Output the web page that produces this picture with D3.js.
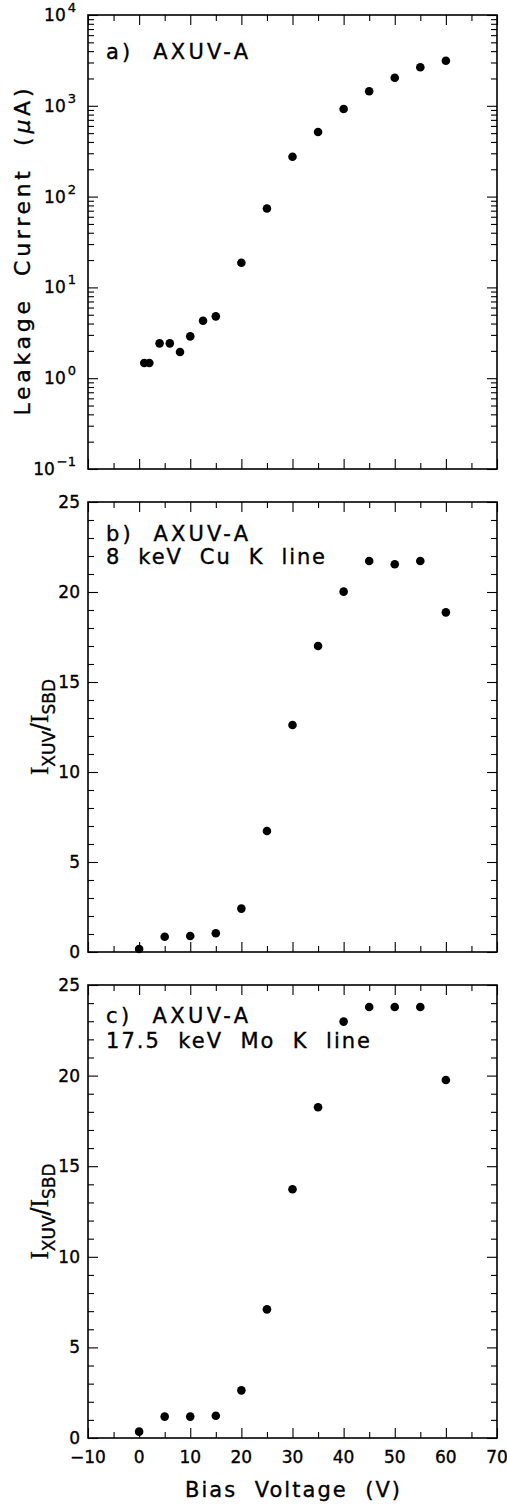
<!DOCTYPE html>
<html><head><meta charset="utf-8">
<script src="https://cdn.jsdelivr.net/npm/d3@7"></script>
<style>
body{margin:0;background:#fff;}
svg{display:block;}
text{font-family:"DejaVu Sans",sans-serif;fill:#000;stroke:#000;stroke-width:0.35;}
.domain{display:none;}
</style></head>
<body><svg id="c" width="507" height="1506"></svg>
<script>
// ---- data ----
const voltA = [1,2,4,6,8,10,12.5,15,20,25,30,35,40,45,50,55,60];
const leakA = [1.47,1.47,2.42,2.42,1.94,2.89,4.3,4.8,18.7,74,275,514,922,1445,2040,2655,3140];
const voltB = [0,5,10,15,20,25,30,35,40,45,50,55,60];
const ratioB = [0.17,0.85,0.89,1.04,2.41,6.72,12.61,17.0,20.02,21.72,21.54,21.72,18.87];
const voltC = [0,5,10,15,20,25,30,35,40,45,50,55,60];
const ratioC = [0.35,1.18,1.18,1.23,2.63,7.1,13.73,18.25,22.98,23.79,23.79,23.79,19.76];
const xMajor = [-10,0,10,20,30,40,50,60,70];
const xMinor = [-5,5,15,25,35,45,55,65];
const xTickLabels = ["\u221210","0","10","20","30","40","50","60","70"];
const logDecades = [-1,0,1,2,3,4];
const linMajor = [0,5,10,15,20,25];
const linLabels = ["0","5","10","15","20","25"];
const panelLabels = [["a)  AXUV-A"],["b)  AXUV-A","8  keV  Cu  K  line"],["c)  AXUV-A","17.5  keV  Mo  K  line"]];

const svg = d3.select("#c");
const L = 88, R = 497;
const x = d3.scaleLinear().domain([-10,70]).range([L,R]);

const panels = [
  {top:15, bot:469, log:true, xs:voltA, ys:leakA},
  {top:502, bot:952, log:false, xs:voltB, ys:ratioB},
  {top:985, bot:1438, log:false, xs:voltC, ys:ratioC}
];
const labelBase = [[59],[541,564],[1023,1048]];
const labelLen = [[142],[142,219],[142,264]];

panels.forEach((p,i)=>{
  const y = p.log ? d3.scaleLog().domain([0.1,1e4]).range([p.bot,p.top])
                  : d3.scaleLinear().domain([0,25]).range([p.bot,p.top]);
  const g = svg.append("g");
  const addAxis = (axis, tr) => {
    const a = g.append("g").attr("transform", tr).call(axis);
    a.selectAll("line").attr("stroke","#000").attr("stroke-width",1.1);
    a.selectAll("text").remove();
  };
  addAxis(d3.axisBottom(x).tickValues(xMajor).tickSize(-10).tickFormat(""), `translate(0,${p.bot})`);
  addAxis(d3.axisBottom(x).tickValues(xMinor).tickSize(-6).tickFormat(""), `translate(0,${p.bot})`);
  addAxis(d3.axisTop(x).tickValues(xMajor).tickSize(-10).tickFormat(""), `translate(0,${p.top})`);
  addAxis(d3.axisTop(x).tickValues(xMinor).tickSize(-6).tickFormat(""), `translate(0,${p.top})`);
  let yMaj, yMin;
  if (p.log) {
    yMaj = logDecades.map(d=>Math.pow(10,d));
    yMin = [];
    logDecades.slice(0,-1).forEach(d=>{for(let k=2;k<=9;k++) yMin.push(k*Math.pow(10,d));});
  } else {
    yMaj = linMajor;
    yMin = d3.range(1,25).filter(v=>v%5!==0);
  }
  addAxis(d3.axisLeft(y).tickValues(yMaj).tickSize(-10).tickFormat(""), `translate(${L},0)`);
  addAxis(d3.axisLeft(y).tickValues(yMin).tickSize(-6).tickFormat(""), `translate(${L},0)`);
  addAxis(d3.axisRight(y).tickValues(yMaj).tickSize(-10).tickFormat(""), `translate(${R},0)`);
  addAxis(d3.axisRight(y).tickValues(yMin).tickSize(-6).tickFormat(""), `translate(${R},0)`);
  g.append("rect").attr("x",L).attr("y",p.top).attr("width",R-L).attr("height",p.bot-p.top)
    .attr("fill","none").attr("stroke","#000").attr("stroke-width",1.6);
  if (p.log) {
    logDecades.forEach(d=>{
      const t = g.append("text").attr("x",76).attr("y",y(Math.pow(10,d))+6)
        .attr("text-anchor","end").attr("font-size",17);
      t.append("tspan").text("10");
      t.append("tspan").attr("dy",-9).attr("dx",2).attr("font-size",13).text(d<0?"\u2212"+(-d):String(d));
    });
  } else {
    linMajor.forEach((v,k)=>{
      g.append("text").attr("x",80).attr("y",y(v)+6).attr("text-anchor","end")
        .attr("font-size",17).text(linLabels[k]);
    });
  }
  g.selectAll("circle").data(p.xs.map((v,k)=>[v,p.ys[k]])).join("circle")
    .attr("cx",d=>x(d[0])).attr("cy",d=>y(d[1])).attr("r",4.3).attr("fill","#000");
  panelLabels[i].forEach((s,k)=>{
    g.append("text").attr("x",106).attr("y",labelBase[i][k]).attr("font-size",21)
      .attr("textLength",labelLen[i][k]).attr("lengthAdjust","spacing")
      .style("white-space","pre").text(s);
  });
  if (p.log) {
    const t = g.append("text").attr("transform",`translate(30,${(p.top+p.bot)/2+10}) rotate(-90)`)
      .attr("text-anchor","middle").attr("font-size",22)
      .attr("textLength",327).attr("lengthAdjust","spacing").style("white-space","pre");
    t.append("tspan").text("Leakage  Current  (");
    t.append("tspan").attr("font-style","italic").text("\u03bc");
    t.append("tspan").text("A)");
  } else {
    const cy = (p.top+p.bot)/2;
    const t = g.append("text").attr("transform",`translate(48,${cy}) rotate(-90)`)
      .attr("text-anchor","middle").attr("font-size",22);
    t.append("tspan").attr("font-family","Liberation Serif").attr("font-size",25).text("I");
    t.append("tspan").attr("font-size",17).attr("dy",7).text("XUV");
    t.append("tspan").attr("dy",-7).attr("font-size",24).text("/");
    t.append("tspan").attr("font-family","Liberation Serif").attr("font-size",25).text("I");
    t.append("tspan").attr("font-size",17).attr("dy",7).text("SBD");
  }
});

xMajor.forEach((v,k)=>{
  svg.append("text").attr("x",x(v)).attr("y",1463).attr("text-anchor","middle")
    .attr("font-size",17).text(xTickLabels[k]);
});
svg.append("text").attr("x",(L+R)/2).attr("y",1497).attr("text-anchor","middle")
  .attr("font-size",21).attr("textLength",215).attr("lengthAdjust","spacing")
  .style("white-space","pre").text("Bias  Voltage  (V)");
</script></body></html>
